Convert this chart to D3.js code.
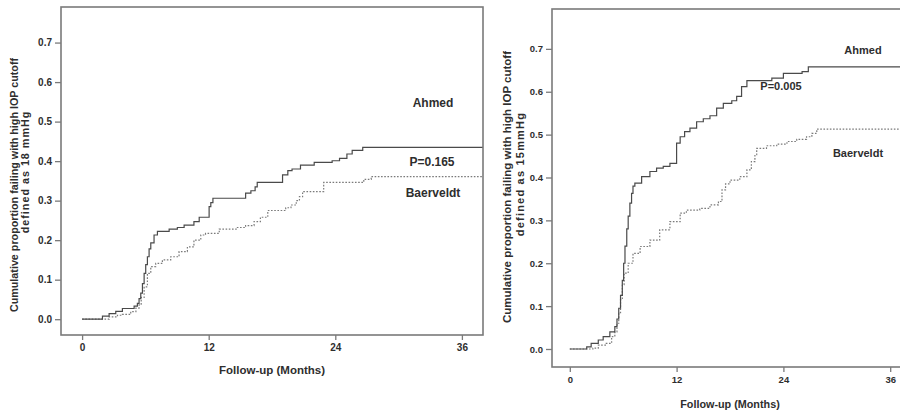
<!DOCTYPE html>
<html>
<head>
<meta charset="utf-8">
<script src="https://cdn.jsdelivr.net/npm/d3@7"></script>
<style>
  html, body { margin: 0; padding: 0; background: #fff; }
  svg { display: block; font-family: "Liberation Sans", Arial, sans-serif; }
</style>
</head>
<body>
<svg id="chart" width="900" height="413"></svg>
<script>
// ---------------- DATA ----------------
const xTickValues = [0, 12, 24, 36];
const yTickValues = [0, 0.1, 0.2, 0.3, 0.4, 0.5, 0.6, 0.7];
const xAxisTitle = "Follow-up (Months)";

// Left panel: cutoff 18 mmHg
const leftAhmedMonths = [0, 1.93, 2.56, 3.19, 3.82, 4.93, 5.24, 5.4, 5.56, 5.72, 5.88, 6.03, 6.19, 6.35, 6.51, 6.82, 7.14, 8.25, 9.03, 9.67, 10.6, 11.1, 12.04, 12.2, 12.4, 15.5, 16.0, 16.4, 16.6, 19.0, 19.5, 19.9, 20.7, 22.0, 23.7, 24.4, 25.1, 25.6, 26.6];
const leftAhmedValues = [0, 0.008, 0.014, 0.02, 0.027, 0.033, 0.04, 0.052, 0.066, 0.09, 0.116, 0.138, 0.158, 0.178, 0.193, 0.213, 0.222, 0.228, 0.232, 0.238, 0.247, 0.258, 0.285, 0.295, 0.306, 0.319, 0.325, 0.335, 0.346, 0.365, 0.376, 0.38, 0.39, 0.397, 0.401, 0.407, 0.418, 0.427, 0.435];
const leftBaerveldtMonths = [0, 2.56, 3.35, 3.82, 4.61, 5.1, 5.4, 5.6, 5.88, 6.19, 6.51, 6.98, 7.61, 8.4, 9.19, 9.98, 10.6, 11.25, 11.7, 13.0, 14.6, 15.5, 16.3, 16.9, 17.6, 19.3, 19.8, 20.3, 20.6, 20.9, 22.9, 26.7, 27.4];
const leftBaerveldtValues = [0, 0.006, 0.01, 0.012, 0.019, 0.028, 0.036, 0.055, 0.082, 0.116, 0.133, 0.141, 0.15, 0.158, 0.171, 0.183, 0.2, 0.213, 0.217, 0.228, 0.232, 0.237, 0.247, 0.258, 0.275, 0.282, 0.289, 0.3, 0.31, 0.323, 0.346, 0.354, 0.361];
const leftYTitle = ["Cumulative proportion failing with high IOP cutoff", "defined as 18 mmHg"];
const leftPText = "P=0.165";

// Right panel: cutoff 15 mmHg
const rightAhmedMonths = [0, 1.9, 2.4, 3.2, 3.75, 4.5, 5.06, 5.3, 5.5, 5.7, 5.9, 6.05, 6.2, 6.4, 6.56, 6.75, 6.94, 7.1, 7.31, 8.07, 9.0, 9.75, 10.5, 11.25, 12.0, 12.4, 12.9, 13.5, 14.25, 15.0, 15.75, 16.5, 17.25, 18.2, 18.75, 19.3, 19.9, 22.7, 24.0, 26.1, 26.8];
const rightAhmedValues = [0, 0.005, 0.013, 0.021, 0.029, 0.04, 0.052, 0.07, 0.095, 0.125, 0.16, 0.2, 0.24, 0.28, 0.31, 0.34, 0.363, 0.38, 0.387, 0.402, 0.414, 0.422, 0.426, 0.433, 0.48, 0.495, 0.507, 0.515, 0.53, 0.537, 0.544, 0.562, 0.573, 0.579, 0.589, 0.612, 0.626, 0.632, 0.643, 0.647, 0.658];
const rightBaerveldtMonths = [0, 2.6, 3.2, 4.1, 4.7, 5.06, 5.3, 5.5, 5.7, 5.9, 6.1, 6.56, 7.1, 7.9, 9.0, 10.1, 11.25, 12.4, 13.1, 14.6, 15.75, 16.7, 17.1, 17.5, 18.0, 19.1, 19.9, 20.4, 20.8, 21.0, 22.1, 23.25, 24.4, 25.5, 26.6, 27.2, 27.75];
const rightBaerveldtValues = [0, 0.002, 0.009, 0.013, 0.029, 0.04, 0.06, 0.085, 0.115, 0.15, 0.177, 0.2, 0.223, 0.239, 0.254, 0.278, 0.297, 0.317, 0.324, 0.328, 0.336, 0.344, 0.371, 0.385, 0.394, 0.402, 0.418, 0.437, 0.453, 0.468, 0.474, 0.478, 0.484, 0.489, 0.495, 0.503, 0.513];
const rightYTitle = ["Cumulative proportion failing with high IOP cutoff", "defined as 15mmHg"];
const rightPText = "P=0.005";

const seriesNames = ["Ahmed", "Baerveldt"];

// ---------------- DRAW ----------------
const svg = d3.select("#chart");
const TEXT = "#2e2e2e";

function drawPanel(cfg) {
  const g = svg.append("g");
  const x = d3.scaleLinear().domain([-2, 38]).range([cfg.left, cfg.right]);
  const y = d3.scaleLinear().domain([cfg.yMin, cfg.yMax]).range([cfg.bottom, cfg.top]);

  const clipId = "clip" + cfg.id;
  svg.append("clipPath").attr("id", clipId).append("rect")
    .attr("x", cfg.left).attr("y", cfg.top)
    .attr("width", cfg.right - cfg.left).attr("height", cfg.bottom - cfg.top);

  const line = d3.line().x(d => x(d[0])).y(d => y(d[1])).curve(d3.curveStepAfter);
  function pts(ms, vs) {
    const p = ms.map((m, i) => [m, vs[i]]);
    p.push([x.domain()[1], vs[vs.length - 1]]);
    return p;
  }

  const lg = g.append("g").attr("clip-path", `url(#${clipId})`);
  lg.append("path").datum(pts(cfg.bMonths, cfg.bValues))
    .attr("d", line).attr("fill", "none")
    .attr("stroke", "#7a7a7a").attr("stroke-width", 1.2)
    .attr("stroke-dasharray", "1.6,1.6");
  lg.append("path").datum(pts(cfg.aMonths, cfg.aValues))
    .attr("d", line).attr("fill", "none")
    .attr("stroke", "#4a4a4a").attr("stroke-width", 1.2);

  // frame
  g.append("rect")
    .attr("x", cfg.left).attr("y", cfg.top)
    .attr("width", cfg.right - cfg.left).attr("height", cfg.bottom - cfg.top)
    .attr("fill", "none").attr("stroke", "#7a7a7a").attr("stroke-width", 1.6);

  // axes
  const yAxis = d3.axisLeft(y).tickValues(yTickValues).tickFormat(d3.format(".1f"))
    .tickSize(6).tickPadding(3);
  const ya = g.append("g").attr("transform", `translate(${cfg.left},0)`).call(yAxis);
  const xAxis = d3.axisBottom(x).tickValues(xTickValues).tickFormat(d3.format("d"))
    .tickSize(5).tickPadding(4);
  const xa = g.append("g").attr("transform", `translate(0,${cfg.bottom})`).call(xAxis);
  [ya, xa].forEach(a => {
    a.select(".domain").remove();
    a.selectAll(".tick line").attr("stroke", "#7a7a7a").attr("stroke-width", 1.3);
    a.selectAll(".tick text").attr("fill", TEXT).attr("font-weight", "bold")
      .attr("font-size", cfg.tickFont).attr("font-family", "Liberation Sans, Arial, sans-serif");
  });

  // axis titles
  g.append("text")
    .attr("x", cfg.xTitleX).attr("y", cfg.xTitleY)
    .attr("text-anchor", "middle").attr("dominant-baseline", "central")
    .attr("font-size", cfg.xTitleFont).attr("font-weight", "bold").attr("fill", TEXT)
    .text(xAxisTitle);
  cfg.yTitle.forEach((t, i) => {
    g.append("text")
      .attr("transform", `translate(${cfg.yTitlePos[i][0]},${cfg.yTitlePos[i][1]}) rotate(-90)`)
      .attr("text-anchor", "middle").attr("dominant-baseline", "central")
      .attr("font-size", cfg.yTitleFont[i]).attr("font-weight", "bold").attr("fill", TEXT)
      .attr("letter-spacing", cfg.yTitleSpacing[i])
      .text(t);
  });

  // annotations
  const ann = [
    [seriesNames[0], cfg.annA],
    [cfg.pText, cfg.annP],
    [seriesNames[1], cfg.annB]
  ];
  ann.forEach(([t, p]) => {
    g.append("text").attr("x", p[0]).attr("y", p[1])
      .attr("text-anchor", "middle").attr("dominant-baseline", "central")
      .attr("font-size", cfg.annFont).attr("font-weight", "bold").attr("fill", TEXT)
      .text(t);
  });
}

drawPanel({
  id: "L", left: 61, right: 483, top: 7, bottom: 335, yMin: -0.04, yMax: 0.79,
  aMonths: leftAhmedMonths, aValues: leftAhmedValues,
  bMonths: leftBaerveldtMonths, bValues: leftBaerveldtValues,
  tickFont: 10, xTitleFont: 11.5, yTitleFont: [10.75, 10.75], yTitleSpacing: [0, 1], annFont: 12,
  xTitleX: 272, xTitleY: 370,
  yTitle: leftYTitle, yTitlePos: [[13.5, 185], [25, 172]],
  pText: leftPText, annA: [433, 103], annP: [432, 162], annB: [433, 193]
});

drawPanel({
  id: "R", left: 552, right: 908, top: 9, bottom: 367, yMin: -0.042, yMax: 0.793,
  aMonths: rightAhmedMonths, aValues: rightAhmedValues,
  bMonths: rightBaerveldtMonths, bValues: rightBaerveldtValues,
  tickFont: 9.5, xTitleFont: 10.8, yTitleFont: [11.5, 11], yTitleSpacing: [0, 1.2], annFont: 11,
  xTitleX: 730, xTitleY: 404,
  yTitle: rightYTitle, yTitlePos: [[507, 187], [519.5, 174]],
  pText: rightPText, annA: [863, 50], annP: [781, 86], annB: [858, 153]
});
</script>
</body>
</html>
